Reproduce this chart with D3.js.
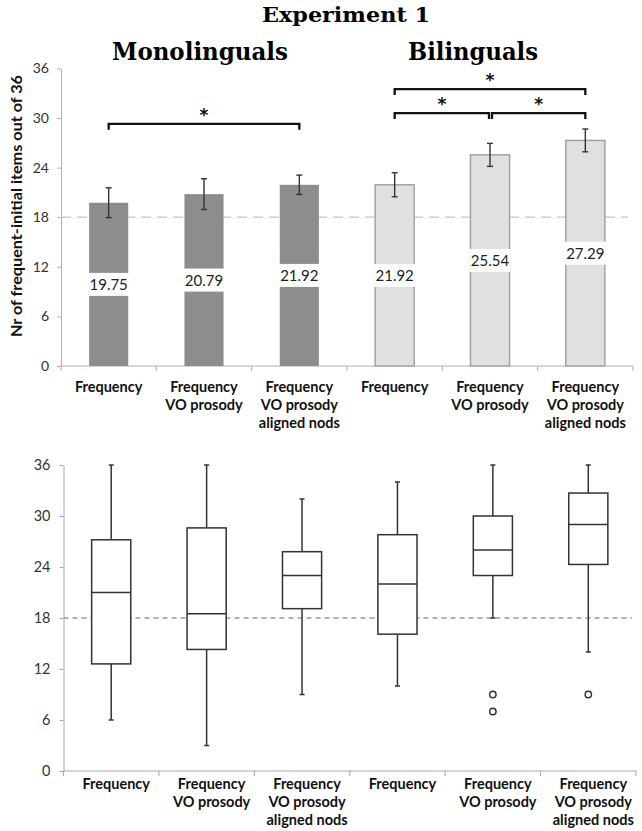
<!DOCTYPE html>
<html>
<head>
<meta charset="utf-8">
<script src="https://cdn.jsdelivr.net/npm/d3@7"></script>
<style>
  html, body { margin: 0; padding: 0; background: #fff; }
  svg { display: block; }
</style>
</head>
<body>
<svg id="chart" width="642" height="831"></svg>
<script>
// ---------------- DATA ----------------
const chartTitle = "Experiment 1";
const groups = ["Monolinguals", "Bilinguals"];
const conditions = [
  ["Frequency"],
  ["Frequency", "VO prosody"],
  ["Frequency", "VO prosody", "aligned nods"]
];
const categories = ["M-F", "M-FV", "M-FVA", "B-F", "B-FV", "B-FVA"];
const categoryGroup = [0, 0, 0, 1, 1, 1];
const categoryCondition = [0, 1, 2, 0, 1, 2];

// top: bar chart of means with SE
const means = [19.75, 20.79, 21.92, 21.92, 25.54, 27.29];
const meanLabels = ["19.75", "20.79", "21.92", "21.92", "25.54", "27.29"];
const errors = [1.8, 1.86, 1.17, 1.45, 1.39, 1.38];
const yTicks = [0, 6, 12, 18, 24, 30, 36];
const yTitle = "Nr of frequent-initial items out of 36";
const chanceLevel = 18;
// significance brackets: [fromIndex, toIndex, level (y units)]
const bracketFrom = [0, 3, 3, 4];
const bracketTo = [2, 5, 4, 5];
const bracketLevel = [29.3, 33.5, 30.6, 30.6];
const bracketMark = ["*", "*", "*", "*"];

// bottom: box plots
const boxMin = [6, 3, 9, 10, 18, 14];
const boxQ1 = [12.6, 14.3, 19.1, 16.1, 23, 24.3];
const boxMedian = [21, 18.5, 23, 22, 26, 29];
const boxQ3 = [27.2, 28.6, 25.8, 27.8, 30, 32.7];
const boxMax = [36, 36, 32, 34, 36, 36];
const boxOutliers = [[], [], [], [], [9, 7], [9]];

// ---------------- DRAW ----------------
const svg = d3.select("#chart");
const sans = "Lato, 'Open Sans', sans-serif";
const serif = "'DejaVu Serif', 'Liberation Serif', serif";

function fitText(sel, w) {
  sel.attr("textLength", w).attr("lengthAdjust", "spacingAndGlyphs");
}
svg.append("text").attr("x", 346).attr("y", 22).attr("text-anchor", "middle")
  .style("font-family", serif).style("font-weight", "bold").style("font-size", "21px")
  .text(chartTitle).call(fitText, 168);
const groupTitleX = [200, 473];
const groupTitleW = [176, 130];
groups.forEach((g, i) => {
  svg.append("text").attr("x", groupTitleX[i]).attr("y", 60).attr("text-anchor", "middle")
    .style("font-family", serif).style("font-weight", "bold").style("font-size", "24px")
    .text(g).call(fitText, groupTitleW[i]);
});

// ---------- Top bar chart ----------
const xTop = d3.scaleBand().domain(categories).range([61, 633]).padding(0);
const yTop = d3.scaleLinear().domain([0, 36]).range([366, 68.4]);
const barW = xTop.bandwidth() * 0.41;
const cx = d => xTop(d) + xTop.bandwidth() / 2;

const gTop = svg.append("g");

const yAxisTop = gTop.append("g").attr("transform", "translate(61,0)")
  .call(d3.axisLeft(yTop).tickValues(yTicks).tickSize(4).tickPadding(8).tickSizeOuter(0));
yAxisTop.select(".domain").attr("stroke", "#b0b0b0");
yAxisTop.selectAll(".tick line").attr("stroke", "#b0b0b0");
yAxisTop.selectAll(".tick text").style("font-family", sans).style("font-size", "14px").attr("fill", "#333");

svg.append("text").attr("transform", "translate(16,206) rotate(-90)")
  .attr("text-anchor", "middle").attr("dominant-baseline", "central")
  .style("font-family", sans).style("font-weight", "bold").style("font-size", "15px").attr("fill", "#111")
  .text(yTitle).call(fitText, 262);

gTop.append("line").attr("x1", 61).attr("x2", 633).attr("y1", yTop(0)).attr("y2", yTop(0)).attr("stroke", "#b0b0b0");
gTop.selectAll(".xbt").data(d3.range(categories.length + 1)).join("line")
  .attr("x1", i => 61 + i * xTop.step()).attr("x2", i => 61 + i * xTop.step())
  .attr("y1", yTop(0)).attr("y2", yTop(0) + 5).attr("stroke", "#b0b0b0");

gTop.append("line").attr("x1", 61).attr("x2", 628).attr("y1", yTop(chanceLevel)).attr("y2", yTop(chanceLevel))
  .attr("stroke", "#c8c8c8").attr("stroke-width", 1.3).attr("stroke-dasharray", "10,6");

gTop.selectAll(".bar").data(categories).join("rect")
  .attr("x", d => cx(d) - barW / 2).attr("width", barW)
  .attr("y", (d, i) => yTop(means[i])).attr("height", (d, i) => yTop(0) - yTop(means[i]))
  .attr("fill", (d, i) => categoryGroup[i] === 0 ? "#8d8d8d" : "#e0e0e0")
  .attr("stroke", (d, i) => categoryGroup[i] === 0 ? "none" : "#a3a3a3")
  .attr("stroke-width", 1.5);

const eb = gTop.selectAll(".eb").data(categories).join("g").attr("stroke", "#333").attr("stroke-width", 1.4);
eb.append("line").attr("x1", d => cx(d)).attr("x2", d => cx(d))
  .attr("y1", (d, i) => yTop(means[i] + errors[i])).attr("y2", (d, i) => yTop(means[i] - errors[i]));
eb.append("line").attr("x1", d => cx(d) - 3).attr("x2", d => cx(d) + 3)
  .attr("y1", (d, i) => yTop(means[i] + errors[i])).attr("y2", (d, i) => yTop(means[i] + errors[i]));
eb.append("line").attr("x1", d => cx(d) - 3).attr("x2", d => cx(d) + 3)
  .attr("y1", (d, i) => yTop(means[i] - errors[i])).attr("y2", (d, i) => yTop(means[i] - errors[i]));

const vl = gTop.selectAll(".vl").data(categories).join("g");
vl.append("rect").attr("x", d => cx(d) - barW / 2 - 1).attr("width", barW + 2)
  .attr("y", (d, i) => yTop(means[i] / 2) - 11.5).attr("height", 23).attr("fill", "#fff");
vl.append("text").attr("x", d => cx(d)).attr("y", (d, i) => yTop(means[i] / 2))
  .attr("text-anchor", "middle").attr("dominant-baseline", "central")
  .style("font-family", sans).style("font-size", "15px").attr("fill", "#222")
  .text((d, i) => meanLabels[i]);

bracketFrom.forEach((f, k) => {
  const x1 = cx(categories[f]) + (k === 3 ? 2 : 0), x2 = cx(categories[bracketTo[k]]) - (k === 2 ? 1 : 0);
  const y = yTop(bracketLevel[k]);
  gTop.append("path").attr("d", `M${x1},${y + 6}V${y}H${x2}V${y + 6}`)
    .attr("fill", "none").attr("stroke", "#111").attr("stroke-width", 2.3);
  gTop.append("text").attr("x", (x1 + x2) / 2).attr("y", y - 3).attr("text-anchor", "middle")
    .style("font-family", "'DejaVu Sans', sans-serif").style("font-weight", "bold").style("font-size", "17px")
    .attr("fill", "#111")
    .text(bracketMark[k]);
});

function drawXLabels(g, scale, y0, dx) {
  categories.forEach((c, i) => {
    const lines = conditions[categoryCondition[i]];
    const t = g.append("text").attr("x", scale(c) + scale.bandwidth() / 2 + dx).attr("y", y0)
      .attr("text-anchor", "middle").style("font-family", sans).style("font-weight", "bold")
      .style("font-size", "14.5px").attr("fill", "#111");
    lines.forEach((l, j) => t.append("tspan").attr("x", scale(c) + scale.bandwidth() / 2 + dx)
      .attr("dy", j === 0 ? 0 : 18.3).text(l));
  });
}
drawXLabels(gTop, xTop, 391.5, 0);

// ---------- Bottom box plot ----------
const xBot = d3.scaleBand().domain(categories).range([63.5, 636]).padding(0);
const yBot = d3.scaleLinear().domain([0, 36]).range([771, 465]);
const boxW = xBot.bandwidth() * 0.41;
const bx = d => xBot(d) + xBot.bandwidth() / 2;
const gBot = svg.append("g");

const yAxisBot = gBot.append("g").attr("transform", "translate(63.5,0)")
  .call(d3.axisLeft(yBot).tickValues(yTicks).tickSize(4).tickPadding(9).tickSizeOuter(0));
yAxisBot.select(".domain").attr("stroke", "#a8a8a8");
yAxisBot.selectAll(".tick line").attr("stroke", "#a8a8a8");
yAxisBot.selectAll(".tick text").style("font-family", sans).style("font-size", "14.5px").attr("fill", "#333");

gBot.append("line").attr("x1", 63.5).attr("x2", 636).attr("y1", yBot(0)).attr("y2", yBot(0)).attr("stroke", "#a8a8a8");
gBot.selectAll(".xbt").data(d3.range(categories.length + 1)).join("line")
  .attr("x1", i => 63.5 + i * xBot.step()).attr("x2", i => 63.5 + i * xBot.step())
  .attr("y1", yBot(0)).attr("y2", yBot(0) + 5).attr("stroke", "#a8a8a8");

gBot.append("line").attr("x1", 63.5).attr("x2", 632).attr("y1", yBot(chanceLevel)).attr("y2", yBot(chanceLevel))
  .attr("stroke", "#9a9a9a").attr("stroke-width", 1.3).attr("stroke-dasharray", "5,4");

const bp = gBot.selectAll(".bp").data(categories).join("g")
  .attr("stroke", "#333").attr("stroke-width", 1.5).attr("fill", "none");
bp.append("line").attr("x1", d => bx(d)).attr("x2", d => bx(d))
  .attr("y1", (d, i) => yBot(boxMax[i])).attr("y2", (d, i) => yBot(boxQ3[i]));
bp.append("line").attr("x1", d => bx(d)).attr("x2", d => bx(d))
  .attr("y1", (d, i) => yBot(boxQ1[i])).attr("y2", (d, i) => yBot(boxMin[i]));
bp.append("line").attr("x1", d => bx(d) - 2.5).attr("x2", d => bx(d) + 2.5)
  .attr("y1", (d, i) => yBot(boxMax[i])).attr("y2", (d, i) => yBot(boxMax[i]));
bp.append("line").attr("x1", d => bx(d) - 2.5).attr("x2", d => bx(d) + 2.5)
  .attr("y1", (d, i) => yBot(boxMin[i])).attr("y2", (d, i) => yBot(boxMin[i]));
bp.append("rect").attr("x", d => bx(d) - boxW / 2).attr("width", boxW)
  .attr("y", (d, i) => yBot(boxQ3[i])).attr("height", (d, i) => yBot(boxQ1[i]) - yBot(boxQ3[i]))
  .attr("fill", "#fff");
bp.append("line").attr("x1", d => bx(d) - boxW / 2).attr("x2", d => bx(d) + boxW / 2)
  .attr("y1", (d, i) => yBot(boxMedian[i])).attr("y2", (d, i) => yBot(boxMedian[i]));
categories.forEach((c, i) => {
  gBot.selectAll(null).data(boxOutliers[i]).join("circle")
    .attr("cx", bx(c)).attr("cy", v => yBot(v)).attr("r", 3.2)
    .attr("fill", "#fff").attr("stroke", "#333").attr("stroke-width", 1.4);
});

drawXLabels(gBot, xBot, 788.5, 5);
</script>
</body>
</html>
